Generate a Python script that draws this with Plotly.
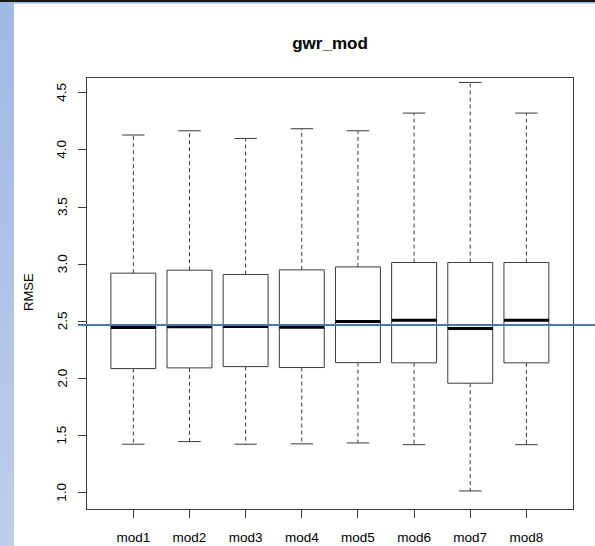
import plotly.graph_objects as go

categories = ["mod1", "mod2", "mod3", "mod4", "mod5", "mod6", "mod7", "mod8"]
upper_whisker = [4.13, 4.167, 4.10, 4.185, 4.167, 4.322, 4.59, 4.322]
q3 = [2.921, 2.947, 2.909, 2.950, 2.976, 3.014, 3.014, 3.014]
median = [2.445, 2.451, 2.454, 2.448, 2.497, 2.509, 2.436, 2.509]
q1 = [2.086, 2.092, 2.103, 2.095, 2.138, 2.136, 1.958, 2.136]
lower_whisker = [1.424, 1.447, 1.424, 1.427, 1.435, 1.420, 1.015, 1.420]
ref_line = 2.468
y_ticks = [1.0, 1.5, 2.0, 2.5, 3.0, 3.5, 4.0, 4.5]
y_title = "RMSE"
chart_title = "gwr_mod"

BOX_HALF = 0.4
CAP_HALF = 0.2
LINE_COL = "#3a3a3a"
FONT = "Liberation Sans, Arial, sans-serif"

fig = go.Figure()

for i, name in enumerate(categories):
    x = i + 1
    # dashed whiskers
    fig.add_trace(go.Scatter(
        x=[x, x, None, x, x],
        y=[q3[i], upper_whisker[i], None, q1[i], lower_whisker[i]],
        mode="lines", line=dict(color=LINE_COL, width=1, dash="4px,3px"),
        hoverinfo="skip", showlegend=False))
    # caps
    fig.add_trace(go.Scatter(
        x=[x - CAP_HALF, x + CAP_HALF, None, x - CAP_HALF, x + CAP_HALF],
        y=[upper_whisker[i], upper_whisker[i], None, lower_whisker[i], lower_whisker[i]],
        mode="lines", line=dict(color=LINE_COL, width=1),
        hoverinfo="skip", showlegend=False))
    # box
    fig.add_trace(go.Scatter(
        x=[x - BOX_HALF, x + BOX_HALF, x + BOX_HALF, x - BOX_HALF, x - BOX_HALF],
        y=[q1[i], q1[i], q3[i], q3[i], q1[i]],
        mode="lines", fill="toself", fillcolor="white",
        line=dict(color=LINE_COL, width=1),
        name=name, showlegend=False))
    # median
    fig.add_trace(go.Scatter(
        x=[x - BOX_HALF, x + BOX_HALF], y=[median[i], median[i]],
        mode="lines", line=dict(color="black", width=3),
        hoverinfo="skip", showlegend=False))

W, H = 595, 546
ml, mr, mt, mb = 87, 22, 78, 37
pw, ph = W - ml - mr, H - mt - mb

def px_x(p):
    return (p - ml) / pw

def px_y(p):
    return (H - mb - p) / ph

shapes = []
# left gradient strip
n_bands = 30
for k in range(n_bands):
    t = k / (n_bands - 1)
    r = int(160 + (190 - 160) * t)
    g = int(185 + (206 - 185) * t)
    b = int(228 + (238 - 228) * t)
    y0p = H * k / n_bands
    y1p = H * (k + 1) / n_bands + 1
    shapes.append(dict(type="rect", xref="paper", yref="paper",
                       x0=px_x(0), x1=px_x(14), y0=px_y(y1p), y1=px_y(y0p),
                       fillcolor=f"rgb({r},{g},{b})", line=dict(width=0), layer="below"))
# top border
shapes.append(dict(type="rect", xref="paper", yref="paper",
                   x0=px_x(0), x1=px_x(W), y0=px_y(2), y1=px_y(0),
                   fillcolor="#1a1a1a", line=dict(width=0)))
shapes.append(dict(type="rect", xref="paper", yref="paper",
                   x0=px_x(14), x1=px_x(W), y0=px_y(3.5), y1=px_y(2),
                   fillcolor="#9db6e2", line=dict(width=0)))
# reference line
shapes.append(dict(type="line", xref="paper", yref="y",
                   x0=px_x(78), x1=px_x(W), y0=ref_line, y1=ref_line,
                   line=dict(color="#4a78b4", width=2)))

annotations = []
for v in y_ticks:
    annotations.append(dict(text=f"{v:.1f}", xref="paper", yref="y",
                            x=px_x(62), y=v, xanchor="center", yanchor="middle",
                            textangle=-90, showarrow=False,
                            font=dict(size=13.5, color="black")))
annotations.append(dict(text=y_title, xref="paper", yref="paper",
                        x=px_x(28), y=px_y(292), xanchor="center", yanchor="middle",
                        textangle=-90, showarrow=False,
                        font=dict(size=13, color="black")))

fig.update_layout(
    width=W, height=H,
    margin=dict(l=ml, r=mr, t=mt, b=mb, autoexpand=False),
    paper_bgcolor="white", plot_bgcolor="white",
    font=dict(family=FONT, size=13.5, color="black"),
    title=dict(text=f"<b>{chart_title}</b>", x=(ml + pw / 2) / W, xanchor="center",
               y=1 - 43 / H, yanchor="middle", font=dict(size=17, color="black")),
    shapes=shapes,
    annotations=annotations,
    xaxis=dict(range=[0.175, 8.83], tickvals=list(range(1, len(categories) + 1)),
               ticktext=categories, ticks="outside", ticklen=8, tickcolor=LINE_COL,
               showline=True, mirror=True, linecolor=LINE_COL, linewidth=1,
               showgrid=False, zeroline=False, tickfont=dict(size=13.5),
               ticklabelstandoff=8, automargin=False),
    yaxis=dict(range=[0.857, 4.629], tickvals=y_ticks, showticklabels=False,
               ticks="outside", ticklen=8, tickcolor=LINE_COL,
               showline=True, mirror=True, linecolor=LINE_COL, linewidth=1,
               showgrid=False, zeroline=False, automargin=False),
)

fig.write_html("out.html")
